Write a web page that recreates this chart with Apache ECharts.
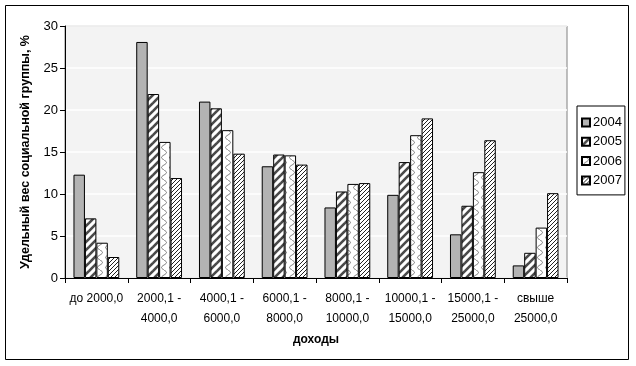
<!DOCTYPE html>
<html><head><meta charset="utf-8">
<script src="https://cdn.jsdelivr.net/npm/echarts@6/dist/echarts.min.js"></script>
<style>html,body{margin:0;padding:0;background:#fff}#c{width:636px;height:366px}</style>
</head><body><div id="c"></div>
<script>
var categories = ['до 2000,0', '2000,1 -\n4000,0', '4000,1 -\n6000,0', '6000,1 -\n8000,0', '8000,1 -\n10000,0', '10000,1 -\n15000,0', '15000,1 -\n25000,0', 'свыше\n25000,0'];
var seriesNames = ['2004', '2005', '2006', '2007'];
var v2004 = [12.3, 28.1, 21.0, 13.3, 8.4, 9.9, 5.2, 1.5];
var v2005 = [7.1, 21.9, 20.2, 14.7, 10.3, 13.8, 8.6, 3.0];
var v2006 = [4.2, 16.2, 17.6, 14.6, 11.2, 17.0, 12.6, 6.0];
var v2007 = [2.5, 11.9, 14.8, 13.5, 11.3, 19.0, 16.4, 10.1];
var yTicks = [0, 5, 10, 15, 20, 25, 30];

function mk(w, h, draw) {
  var c = document.createElement('canvas'); c.width = w; c.height = h;
  var ctx = c.getContext('2d'); ctx.fillStyle = '#fff'; ctx.fillRect(0, 0, w, h);
  draw(ctx); return c;
}
var p2005 = mk(8, 8, function (ctx) {
  ctx.strokeStyle = '#4a4a4a'; ctx.lineWidth = 2.6;
  for (var k = -1; k <= 1; k++) { ctx.beginPath(); ctx.moveTo(k * 8 - 1, 9); ctx.lineTo(k * 8 + 9, -1); ctx.stroke(); }
});
var p2007 = mk(4, 4, function (ctx) {
  ctx.fillStyle = '#222';
  for (var i = 0; i < 4; i++) ctx.fillRect(i, 3 - i, 1, 1);
});
var p2006 = mk(8, 10, function (ctx) {
  ctx.strokeStyle = '#777'; ctx.lineWidth = 1;
  ctx.beginPath();
  for (var y = 0; y <= 10; y += 0.5) {
    var x = 4 + 2.5 * Math.sin(y / 10 * 2 * Math.PI);
    if (y === 0) ctx.moveTo(x, y); else ctx.lineTo(x, y);
  }
  ctx.stroke();
});

var fills = ['#b3b3b3', { image: p2005, repeat: 'repeat' }, { image: p2006, repeat: 'repeat' }, { image: p2007, repeat: 'repeat' }];
var data = [v2004, v2005, v2006, v2007];
var font = 'Liberation Sans';

var chart = echarts.init(document.getElementById('c'), null, { renderer: 'canvas' });
chart.setOption({
  animation: false,
  backgroundColor: '#fff',
  textStyle: { fontFamily: font },
  graphic: [{ type: 'rect', shape: { x: 5.5, y: 5.5, width: 623, height: 354 }, style: { fill: 'none', stroke: '#000', lineWidth: 1 }, z: 100 }],
  grid: { left: 65, right: 69, top: 26, bottom: 88, show: true, backgroundColor: '#f3f3f3', borderWidth: 1, borderColor: '#808080' },
  legend: {
    orient: 'vertical', left: 577, top: 106, width: 47, padding: [10, 3, 8, 4],
    borderColor: '#000', borderWidth: 1, itemWidth: 8, itemHeight: 8, itemGap: 6.3,
    textStyle: { fontSize: 13, lineHeight: 13, color: '#000', fontFamily: font, padding: [0, 0, 0, -2] },
    data: seriesNames.map(function (n) { return { name: n, icon: 'rect' }; })
  },
  xAxis: {
    type: 'category', data: categories,
    name: 'доходы', nameLocation: 'middle', nameGap: 54,
    nameTextStyle: { fontWeight: 'bold', fontSize: 12, color: '#000', fontFamily: font },
    axisLine: { lineStyle: { color: '#000' } },
    axisTick: { show: true, length: 5, lineStyle: { color: '#000' } },
    axisLabel: { color: '#000', fontSize: 12, interval: 0, margin: 11, lineHeight: 20, fontFamily: font }
  },
  yAxis: {
    type: 'value', min: 0, max: 30, interval: 5,
    name: 'Удельный вес социальной группы, %', nameLocation: 'middle', nameGap: 33,
    nameTextStyle: { fontWeight: 'bold', fontSize: 12.5, color: '#000', fontFamily: font },
    axisLine: { show: true, lineStyle: { color: '#000' } },
    axisTick: { show: true, length: 5, lineStyle: { color: '#000' } },
    axisLabel: { color: '#000', fontSize: 13, margin: 7, fontFamily: font,
      formatter: function (v) { return yTicks.indexOf(v) >= 0 ? String(v) : ''; } },
    splitLine: { show: true, lineStyle: { color: '#ffffff', width: 1.5 } }
  },
  series: data.map(function (d, i) {
    return {
      name: seriesNames[i], type: 'bar', data: d,
      barGap: '0%', barCategoryGap: '27%',
      itemStyle: { color: fills[i], borderColor: '#000', borderWidth: 1 }
    };
  })
});
</script></body></html>
